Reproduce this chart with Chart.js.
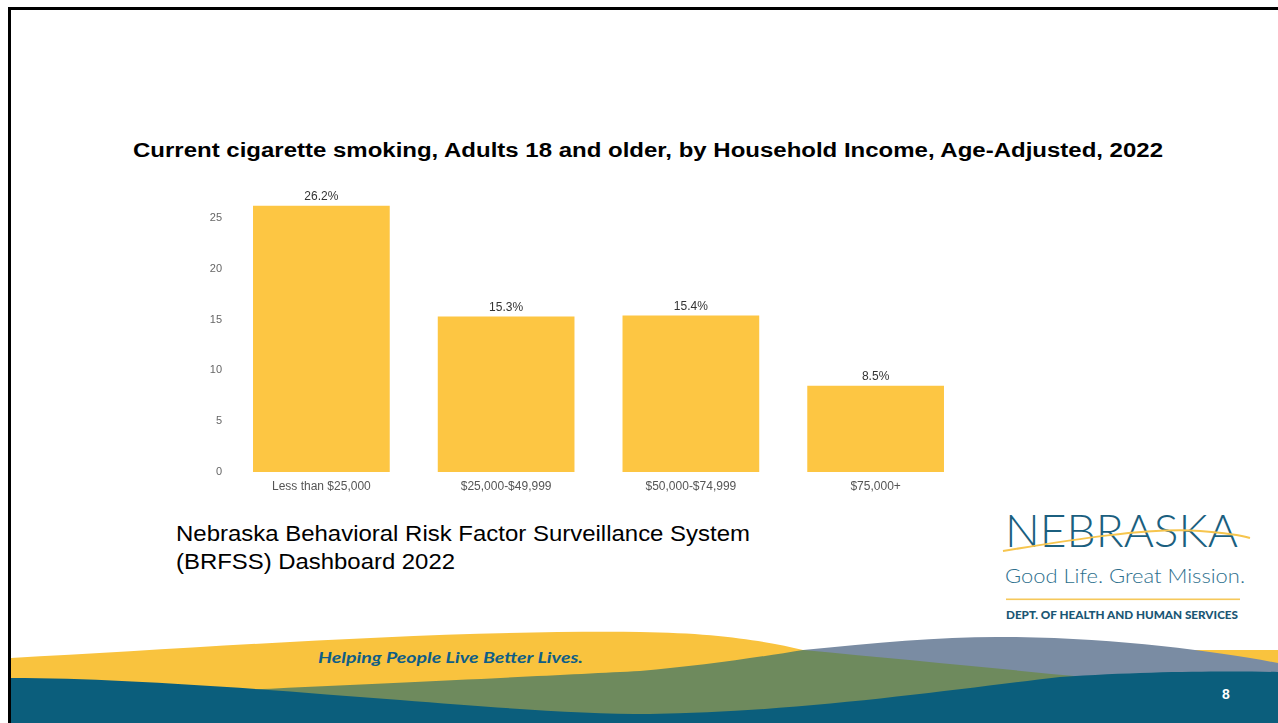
<!DOCTYPE html>
<html>
<head>
<meta charset="utf-8">
<script src="https://cdn.jsdelivr.net/npm/chart.js@4.4.1/dist/chart.umd.min.js"></script>
<style>
  html, body { margin: 0; padding: 0; background: #ffffff; }
  #slide { position: relative; width: 1278px; height: 723px; overflow: hidden; background: #ffffff; }
  #deco { position: absolute; left: 0; top: 0; }
  #chartBox { position: absolute; left: 190px; top: 176px; width: 790px; height: 324px; }
</style>
</head>
<body>
<div id="slide">
  <svg id="deco" width="1278" height="723" xmlns="http://www.w3.org/2000/svg">
    <!-- slide frame -->
    <rect x="8" y="7" width="1270" height="3" fill="#000000"/>
    <rect x="8" y="7" width="3" height="716" fill="#000000"/>

    <!-- footer waves -->
    <path d="M11,658 C 200,648 430,630 640,632 C 720,633 770,642 803,650 L 1278,650 L 1278,723 L 11,723 Z" fill="#F9C33E"/>
    <path d="M803,650 C 880,642 950,636 1010,637 C 1120,638 1220,652 1278,663 L 1278,723 L 803,723 Z" fill="#7A8CA3"/>
    <path d="M238,690 C 400,683 560,675 640,671 C 700,666 760,657 803,650 C 900,659 1000,669 1085,677 L 1085,723 L 238,723 Z" fill="#6E8A5D"/>
    <path d="M11,678 C 120,678 260,689 400,700 C 500,708 580,714 650,714 C 800,712 950,690 1060,677 C 1150,671 1230,671 1278,672 L 1278,723 L 11,723 Z" fill="#0B5E7C"/>

    <!-- title -->
    <text x="133" y="157" textLength="1030" lengthAdjust="spacingAndGlyphs"
          font-family="Liberation Sans, Arial, sans-serif" font-weight="bold" font-size="20" fill="#000000">Current cigarette smoking, Adults 18 and older, by Household Income, Age-Adjusted, 2022</text>

    <!-- source note -->
    <text x="176" y="541" textLength="574" lengthAdjust="spacingAndGlyphs"
          font-family="Liberation Sans, Arial, sans-serif" font-size="22" fill="#000000">Nebraska Behavioral Risk Factor Surveillance System</text>
    <text x="176" y="569" textLength="279" lengthAdjust="spacingAndGlyphs"
          font-family="Liberation Sans, Arial, sans-serif" font-size="22" fill="#000000">(BRFSS) Dashboard 2022</text>

    <!-- DHHS logo -->
    <text x="1005" y="547" textLength="233" lengthAdjust="spacingAndGlyphs"
          font-family="Lato, Open Sans, sans-serif" font-weight="300" font-size="46" fill="#1B5F7F">NEBRASKA</text>
    <path d="M1003,551 C 1070,540 1150,527 1200,531 C 1225,533 1240,535 1250,538" fill="none" stroke="#F6C54E" stroke-width="2"/>
    <text x="1005" y="583" textLength="240" lengthAdjust="spacingAndGlyphs"
          font-family="Lato, Open Sans, sans-serif" font-weight="300" font-size="20" fill="#2D6F8D">Good Life. Great Mission.</text>
    <rect x="1006" y="598.5" width="234" height="1.6" fill="#F6C85A"/>
    <text x="1006" y="619" textLength="232" lengthAdjust="spacingAndGlyphs"
          font-family="Lato, Liberation Sans, sans-serif" font-weight="900" font-size="11.5" fill="#1A5674">DEPT. OF HEALTH AND HUMAN SERVICES</text>

    <!-- footer text -->
    <text x="318" y="663" textLength="265" lengthAdjust="spacingAndGlyphs"
          font-family="Lato, Liberation Sans, sans-serif" font-weight="bold" font-style="italic" font-size="14.5" fill="#0F5E86">Helping People Live Better Lives.</text>
    <text x="1222" y="699" font-family="Liberation Sans, Arial, sans-serif" font-weight="bold" font-size="14" fill="#ffffff">8</text>
  </svg>

  <div id="chartBox"><canvas id="chart"></canvas></div>
</div>

<script>
// Household income groups and age-adjusted current smoking prevalence (%)
const categories = ['Less than $25,000', '$25,000-$49,999', '$50,000-$74,999', '$75,000+'];
const smokingRates = [26.2, 15.3, 15.4, 8.5];
const yTickValues = [0, 5, 10, 15, 20, 25];

const chartFont = 'Liberation Sans, Arial, sans-serif';

// Writes each bar's value above it
const valueLabels = {
  id: 'valueLabels',
  afterDatasetsDraw(chart) {
    const ctx = chart.ctx;
    const meta = chart.getDatasetMeta(0);
    ctx.save();
    ctx.font = '12px ' + chartFont;
    ctx.fillStyle = '#333333';
    ctx.textAlign = 'center';
    ctx.textBaseline = 'middle';
    meta.data.forEach((bar, i) => {
      const v = chart.data.datasets[0].data[i];
      ctx.fillText(v.toFixed(1) + '%', bar.x, bar.y - 9);
    });
    ctx.restore();
  }
};

new Chart(document.getElementById('chart'), {
  type: 'bar',
  data: {
    labels: categories,
    datasets: [{
      data: smokingRates,
      backgroundColor: '#FDC643',
      borderWidth: 0,
      categoryPercentage: 1.0,
      barPercentage: 0.74
    }]
  },
  options: {
    responsive: true,
    maintainAspectRatio: false,
    animation: false,
    layout: { padding: { top: 8, right: 12, left: 0, bottom: 0 } },
    plugins: {
      legend: { display: false },
      tooltip: { enabled: false }
    },
    scales: {
      x: {
        grid: { display: false, drawTicks: false },
        border: { display: false },
        ticks: { color: '#555555', font: { family: chartFont, size: 12 }, padding: 7 },
        afterFit(scale) { scale.height = 28; }
      },
      y: {
        min: 0,
        max: 27.8,
        grid: { display: false, drawTicks: false },
        border: { display: false },
        ticks: { color: '#666666', font: { family: chartFont, size: 11 }, padding: 7 },
        afterBuildTicks(scale) { scale.ticks = yTickValues.map(v => ({ value: v })); },
        afterFit(scale) { scale.width = 39; }
      }
    }
  },
  plugins: [valueLabels]
});
</script>
</body>
</html>
